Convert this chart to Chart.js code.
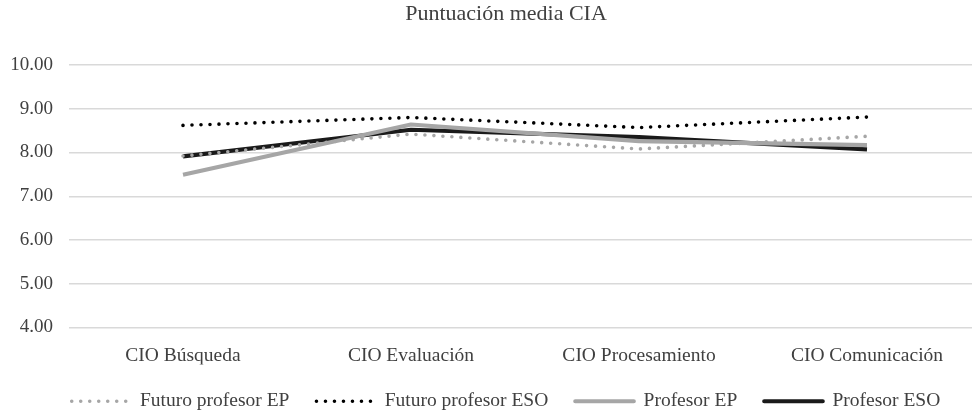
<!DOCTYPE html>
<html><head><meta charset="utf-8">
<script src="https://cdn.jsdelivr.net/npm/chart.js@4.4.1/dist/chart.umd.min.js"></script>
<style>
html,body{margin:0;padding:0;background:#fff;overflow:hidden;width:972px;height:411px;}
#wrap{position:absolute;left:0;top:0;width:1012px;height:411px;}
</style></head>
<body><div id="wrap"><canvas id="c" width="1012" height="411"></canvas></div>
<script>
const categories = ["CIO Búsqueda", "CIO Evaluación", "CIO Procesamiento", "CIO Comunicación"];
const futuroEP  = [7.92, 8.42, 8.08, 8.37];
const futuroESO = [8.62, 8.80, 8.57, 8.81];
const profesorEP  = [7.49, 8.64, 8.26, 8.17];
const profesorESO = [7.91, 8.52, 8.35, 8.07];
const yTicks = [4, 5, 6, 7, 8, 9, 10];
const chartTitle = "Puntuación media CIA";

const FONT = "'Liberation Serif', 'Times New Roman', serif";
const TXT = '#404040';
const dotted = (label, data, color) => ({
  label, data, borderColor: color, backgroundColor: color,
  borderWidth: 3.6, borderDash: [0, 9], borderCapStyle: 'round',
  pointRadius: 0, pointHoverRadius: 0, fill: false, tension: 0
});
const solid = (label, data, color) => ({
  label, data, borderColor: color, backgroundColor: color,
  borderWidth: 4.2, borderCapStyle: 'butt', borderJoinStyle: 'round',
  pointRadius: 0, pointHoverRadius: 0, fill: false, tension: 0
});

new Chart(document.getElementById('c'), {
  type: 'line',
  data: {
    labels: categories,
    datasets: [
      dotted('Futuro profesor EP', futuroEP, '#a6a6a6'),
      dotted('Futuro profesor ESO', futuroESO, '#000000'),
      solid('Profesor EP', profesorEP, '#a6a6a6'),
      solid('Profesor ESO', profesorESO, '#1a1a1a')
    ]
  },
  options: {
    responsive: false,
    animation: false,
    devicePixelRatio: 1,
    layout: { padding: { left: 0, right: 0, top: 0, bottom: -10 } },
    plugins: {
      title: {
        display: true, text: chartTitle, color: TXT,
        font: { family: FONT, size: 22, weight: 'normal' },
        padding: { top: 1, bottom: 37.6 }
      },
      legend: {
        position: 'bottom',
        labels: {
          boxWidth: 58.5, boxHeight: 0,
          color: TXT, padding: 27,
          font: { family: FONT, size: 19.5 }
        }
      },
      tooltip: { enabled: false }
    },
    scales: {
      x: {
        offset: true,
        grid: { display: false },
        border: { display: false },
        afterFit: (s) => { s.height = 37; },
        ticks: { color: TXT, font: { family: FONT, size: 19.5 }, padding: 9, maxRotation: 0 }
      },
      y: {
        min: 4, max: 10,
        afterBuildTicks: (s) => { s.ticks = yTicks.map(v => ({ value: v })); },
        afterFit: (s) => { s.width = 69; },
        grid: { color: '#d9d9d9', lineWidth: 1.5, drawTicks: false },
        border: { display: false },
        ticks: { color: TXT, font: { family: FONT, size: 19 }, padding: 16,
                 callback: (v) => Number(v).toFixed(2) }
      },
      yR: {
        position: 'right',
        grid: { display: false },
        border: { display: false },
        ticks: { display: false },
        afterFit: (s) => { s.width = 31; }
      }
    }
  }
});
</script></body></html>
